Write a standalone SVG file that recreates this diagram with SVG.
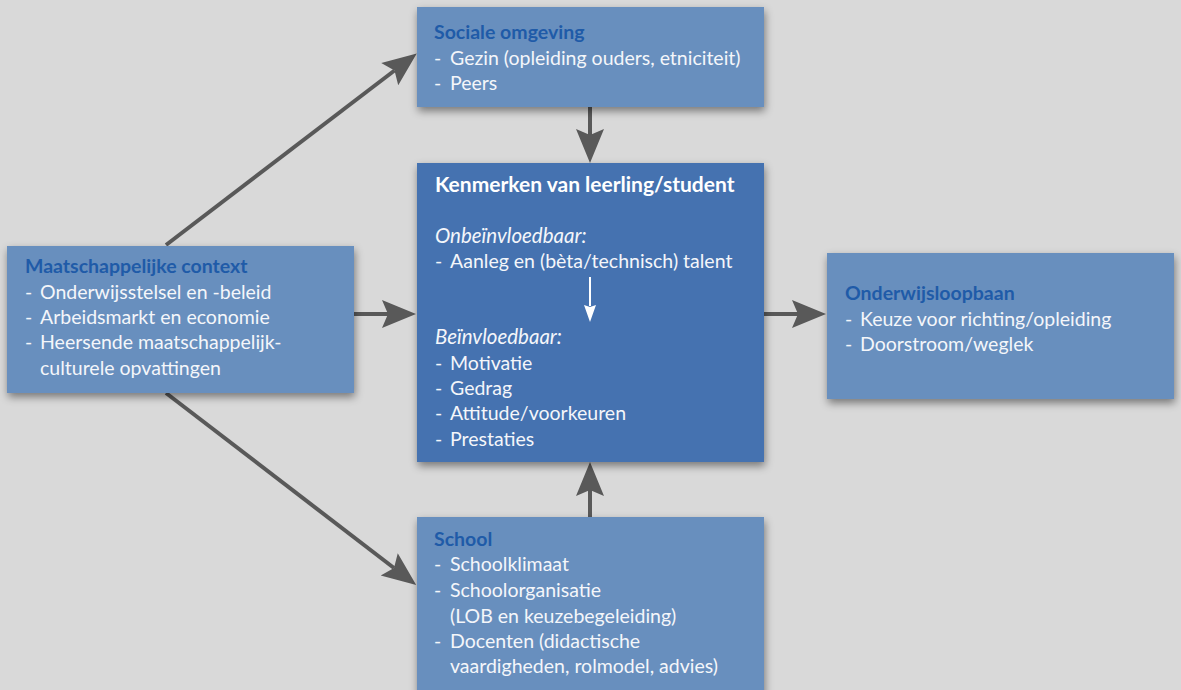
<svg xmlns="http://www.w3.org/2000/svg" width="1181" height="690" viewBox="0 0 1181 690">
<defs>
<style>
.box{fill:#688fbe;filter:url(#sh)}
.main{fill:#4472b0;filter:url(#sh)}
text{font-family:Lato,"Open Sans","Liberation Sans",sans-serif;font-size:19.5px;fill:#f4f6fa}
.t{font-weight:bold;fill:#1f5ba8}
.mt{font-weight:bold;fill:#ffffff;font-size:21px}
.i{font-style:italic;font-size:20.5px}
.c{stroke:#595959;stroke-width:4;fill:none;marker-end:url(#ah)}
.w{stroke:#ffffff;stroke-width:2;fill:none;marker-end:url(#wh)}
</style>
<filter id="sh" x="-10%" y="-10%" width="125%" height="130%">
<feDropShadow dx="1" dy="4" stdDeviation="4" flood-color="#000" flood-opacity="0.45"/>
</filter>
<marker id="ah" markerUnits="userSpaceOnUse" viewBox="-7 -15 36 30" refX="0" refY="0" markerWidth="36" markerHeight="30" orient="auto">
<path d="M28,0 L-6,-14 L0,0 L-6,14 Z" fill="#595959"/>
</marker>
<marker id="wh" markerUnits="userSpaceOnUse" viewBox="-3 -7 20 14" refX="0" refY="0" markerWidth="20" markerHeight="14" orient="auto">
<path d="M16,0 L-1,-6 L1,0 L-1,6 Z" fill="#ffffff"/>
</marker>
</defs>
<rect width="1181" height="690" fill="#d9d9d9"/>
<g id="connectors">
<line class="c" x1="590" y1="107" x2="590" y2="135"/>
<line class="c" x1="590" y1="517" x2="590" y2="490"/>
<line class="c" x1="354" y1="314" x2="388" y2="314"/>
<line class="c" x1="764" y1="314" x2="798" y2="314"/>
<line class="c" x1="166" y1="245" x2="394.5" y2="70.5"/>
<line class="c" x1="166" y1="393" x2="394" y2="568"/>
</g>
<g id="sociale">
<rect class="box" x="417" y="7" width="347" height="100"/>
<text class="t" x="434" y="39">Sociale omgeving</text>
<text y="65"><tspan x="434">-</tspan><tspan x="450">Gezin (opleiding ouders, etniciteit)</tspan></text>
<text y="90"><tspan x="434">-</tspan><tspan x="450">Peers</tspan></text>
</g>
<g id="maatschappelijk">
<rect class="box" x="7" y="246" width="347" height="147"/>
<text class="t" x="25" y="273">Maatschappelijke context</text>
<text y="299"><tspan x="25">-</tspan><tspan x="40">Onderwijsstelsel en -beleid</tspan></text>
<text y="324"><tspan x="25">-</tspan><tspan x="40">Arbeidsmarkt en economie</tspan></text>
<text y="349"><tspan x="25">-</tspan><tspan x="40">Heersende maatschappelijk-</tspan></text>
<text y="375"><tspan x="40">culturele opvattingen</tspan></text>
</g>
<g id="kenmerken">
<rect class="main" x="417" y="163" width="347" height="299"/>
<text class="mt" x="435" y="192">Kenmerken van leerling/student</text>
<text class="i" x="435" y="243">Onbeïnvloedbaar:</text>
<text y="268"><tspan x="435">-</tspan><tspan x="450">Aanleg en (bèta/technisch) talent</tspan></text>
<line class="w" x1="590" y1="277" x2="590" y2="306"/>
<text class="i" x="435" y="344">Beïnvloedbaar:</text>
<text y="370"><tspan x="435">-</tspan><tspan x="450">Motivatie</tspan></text>
<text y="395"><tspan x="435">-</tspan><tspan x="450">Gedrag</tspan></text>
<text y="420"><tspan x="435">-</tspan><tspan x="450">Attitude/voorkeuren</tspan></text>
<text y="446"><tspan x="435">-</tspan><tspan x="450">Prestaties</tspan></text>
</g>
<g id="onderwijsloopbaan">
<rect class="box" x="827" y="253" width="347" height="146"/>
<text class="t" x="845" y="300">Onderwijsloopbaan</text>
<text y="326"><tspan x="845">-</tspan><tspan x="860">Keuze voor richting/opleiding</tspan></text>
<text y="351"><tspan x="845">-</tspan><tspan x="860">Doorstroom/weglek</tspan></text>
</g>
<g id="school">
<rect class="box" x="417" y="517" width="347" height="200"/>
<text class="t" x="434" y="546">School</text>
<text y="571"><tspan x="434">-</tspan><tspan x="450">Schoolklimaat</tspan></text>
<text y="597"><tspan x="434">-</tspan><tspan x="450">Schoolorganisatie</tspan></text>
<text y="623"><tspan x="450">(LOB en keuzebegeleiding)</tspan></text>
<text y="648"><tspan x="434">-</tspan><tspan x="450">Docenten (didactische</tspan></text>
<text y="673"><tspan x="450">vaardigheden, rolmodel, advies)</tspan></text>
</g>
</svg>
